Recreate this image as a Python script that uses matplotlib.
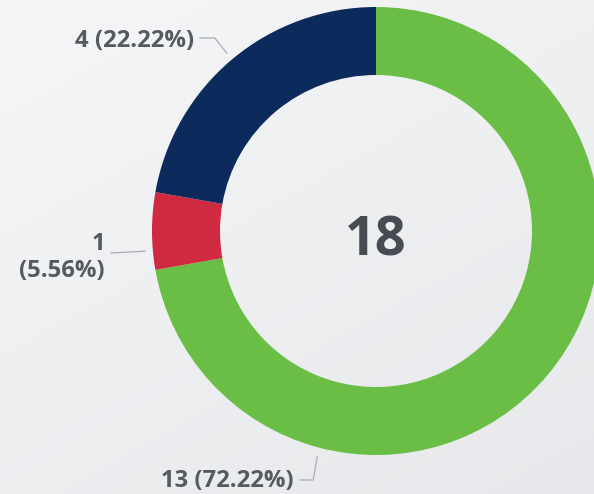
import numpy as np
import matplotlib
matplotlib.use("Agg")
from matplotlib import pyplot as plt
from matplotlib.colors import LinearSegmentedColormap

plt.rcParams['font.family'] = ['Open Sans', 'DejaVu Sans']

# data (clockwise from 12 o'clock)
values = [13, 1, 4]
colors = ['#6abd45', '#cf2a3f', '#0c2a5b']
label_angles = [-104.6, -175.0, 130.0]   # where the leader lines touch the ring

W, H = 594, 494
cx, cy = 376, H - 231
R, ring = 224, 68

fig = plt.figure(figsize=(W / 100, H / 100), dpi=100)
ax = fig.add_axes([0, 0, 1, 1])

# soft grey background gradient
yy, xx = np.mgrid[0:1:200j, 0:1:200j]
grad = 0.6 * yy + 0.4 * xx
bg = LinearSegmentedColormap.from_list('bg', ['#f5f6f7', '#e6e8eb'])
ax.imshow(grad, extent=(0, W, 0, H), cmap=bg, origin='upper', aspect='auto', zorder=0)

ax.pie(values, colors=colors, startangle=90, counterclock=False, radius=R,
       center=(cx, cy), wedgeprops=dict(width=ring, linewidth=0), frame=True)
ax.set_xlim(0, W)
ax.set_ylim(0, H)
ax.axis('off')

total = sum(values)
ax.text(cx, cy - 11, str(total), ha='center', va='center', fontsize=39,
        fontweight='bold', color='#474c53')

lbl = ["%d (%.2f%%)" % (v, v * 100.0 / total) for v in values]
txt_kw = dict(fontsize=17.2, fontweight='bold', color='#565a60')
line_kw = dict(color='#a9adb2', lw=0.9)

# green
a = np.radians(label_angles[0])
px, py = cx + 233 * np.cos(a), cy + 233 * np.sin(a)
ax.plot([300, px - 4, px], [H - 480, H - 480, py], **line_kw)
ax.text(294, H - 481, lbl[0], ha='right', va='center', **txt_kw)

# red
a = np.radians(label_angles[1])
px, py = cx + 232 * np.cos(a), cy + 232 * np.sin(a)
ax.plot([111, px], [H - 253, py], **line_kw)
ax.text(105, H - 244, "%d" % values[1], ha='right', va='center', **txt_kw)
ax.text(105, H - 271, "(%.2f%%)" % (values[1] * 100.0 / total), ha='right', va='center', **txt_kw)

# navy
a = np.radians(label_angles[2])
px, py = cx + 232 * np.cos(a), cy + 232 * np.sin(a)
ax.plot([200, px - 12, px], [H - 38, H - 38, py], **line_kw)
ax.text(194, H - 41, lbl[2], ha='right', va='center', **txt_kw)

fig.savefig('out.png', dpi=100)
